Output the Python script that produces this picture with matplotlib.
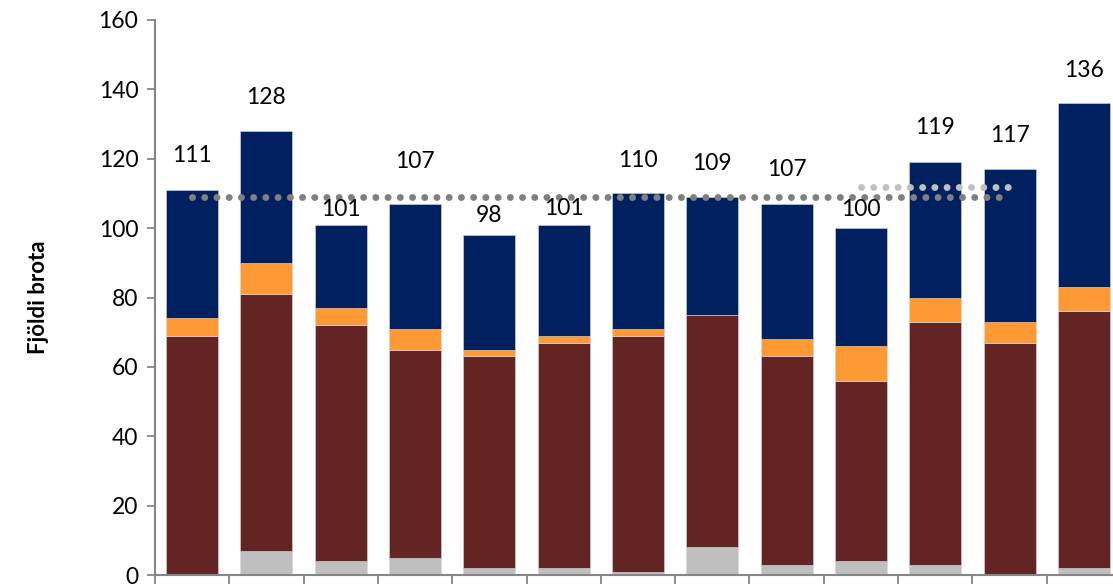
import matplotlib
matplotlib.use('Agg')
import matplotlib.pyplot as plt
from matplotlib.ticker import FixedLocator, NullLocator

plt.rcParams['font.family'] = ['Lato', 'DejaVu Sans']

# Gögn (lesin af myndinni)
totals = [111, 128, 101, 107, 98, 101, 110, 109, 107, 100, 119, 117, 136]
grey_part = [0, 7, 4, 5, 2, 2, 1, 8, 3, 4, 3, 0, 2]
maroon_part = [69, 74, 68, 60, 61, 65, 68, 67, 60, 52, 70, 67, 74]
orange_part = [5, 9, 5, 6, 2, 2, 2, 0, 5, 10, 7, 6, 7]
navy_part = [37, 38, 24, 36, 33, 32, 39, 34, 39, 34, 39, 44, 53]

# meðaltalslínur
avg_long_x = [0, 11]
avg_long_y = [109, 109]
avg_short_x = [9, 11]
avg_short_y = [112, 112]

# staðsetning gildismerkja (færð til eins og í frumritinu)
label_y = [120.9, 137.6, 105.4, 119.1, 103.7, 105.8, 119.6, 118.5, 116.9,
           105.4, 128.9, 126.7, 145.5]

x = list(range(len(totals)))

fig = plt.figure(figsize=(11.13, 5.84), dpi=100)
ax = fig.add_axes([155 / 1113, 9 / 584, 966 / 1113, 555 / 584])

bottom = [0] * len(x)
for part, color in [(grey_part, '#bfbfbf'), (maroon_part, '#632523'),
                    (orange_part, '#ff9933'), (navy_part, '#002060')]:
    ax.bar(x, part, width=0.7, bottom=bottom, color=color,
           edgecolor='#d9d9d9', linewidth=0.4, zorder=2)
    bottom = [b + p for b, p in zip(bottom, part)]

ax.plot(avg_long_x, avg_long_y, color='#808080', linewidth=5,
        linestyle=(0, (0.01, 1.75)), dash_capstyle='round', zorder=3)
ax.plot(avg_short_x, avg_short_y, color='#c0c0c0', linewidth=5,
        linestyle=(0, (0.01, 1.75)), dash_capstyle='round', zorder=3)

for xi, t, ly in zip(x, totals, label_y):
    ax.text(xi, ly, str(t), ha='center', va='center', fontsize=16.5,
            color='black', zorder=4)

ax.set_xlim(-0.5, 12.5)
ax.set_ylim(0, 160)
ax.set_yticks(range(0, 161, 20))
ax.tick_params(axis='y', labelsize=16.5, length=6, width=1.3,
               color='#868686', pad=6)
ax.xaxis.set_major_locator(NullLocator())
ax.xaxis.set_minor_locator(FixedLocator([i + 0.5 for i in range(-1, 13)]))
ax.tick_params(axis='x', which='minor', length=9, width=1.3,
               color='#868686', direction='out')

for side in ['top', 'right']:
    ax.spines[side].set_visible(False)
for side in ['left', 'bottom']:
    ax.spines[side].set_color('#868686')
    ax.spines[side].set_linewidth(1.5)

ax.set_ylabel('Fjöldi brota', fontsize=16, fontweight='bold', labelpad=36)

fig.savefig('out.png', dpi=100)
